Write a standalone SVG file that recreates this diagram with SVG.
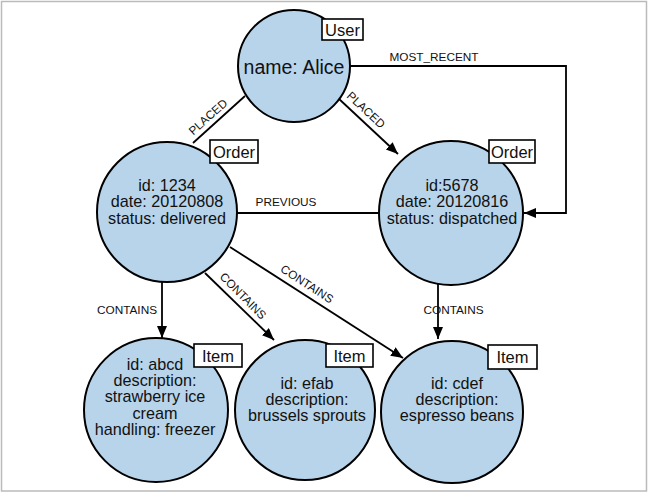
<svg xmlns="http://www.w3.org/2000/svg" width="650" height="496" viewBox="0 0 650 496">
<defs>
<marker id="arr" markerUnits="userSpaceOnUse" markerWidth="13" markerHeight="11" refX="12" refY="5" orient="auto">
<path d="M0,0 L12,5 L0,10 z" fill="#000"/>
</marker>
<style>
.n{fill:#b8d4ea;stroke:#000;stroke-width:2}
.lb{fill:#fff;stroke:#000;stroke-width:1.6}
.t{font-family:"Liberation Sans",Arial,sans-serif;font-size:16.2px;fill:#111;text-anchor:middle}
.lt{font-family:"Liberation Sans",Arial,sans-serif;font-size:16.5px;fill:#111;text-anchor:middle}
.c{fill:none;stroke:#000;stroke-width:1.8}
.el{font-family:"Liberation Sans",Arial,sans-serif;font-size:11.8px;fill:#111;text-anchor:middle}
</style>
</defs>
<rect x="1.5" y="1.5" width="645" height="489.5" fill="#fff" stroke="#bbb" stroke-width="1.5"/>
<g id="connectors">
<path class="c" d="M350,66 H566 V213 H524" marker-end="url(#arr)"/>
<text class="el" x="434" y="61">MOST_RECENT</text>
<line class="c" x1="245" y1="96" x2="193" y2="143"/>
<text class="el" transform="translate(208,117) rotate(-42)" y="4">PLACED</text>
<line class="c" x1="338" y1="98" x2="398" y2="154" marker-end="url(#arr)"/>
<text class="el" transform="translate(366,110) rotate(43)" y="4">PLACED</text>
<line class="c" x1="378" y1="213" x2="237" y2="213"/>
<text class="el" x="286" y="206">PREVIOUS</text>
<line class="c" x1="162" y1="282" x2="162" y2="338" marker-end="url(#arr)"/>
<text class="el" x="127" y="314">CONTAINS</text>
<line class="c" x1="205" y1="273" x2="274" y2="340" marker-end="url(#arr)"/>
<text class="el" transform="translate(243,296) rotate(45)" y="4">CONTAINS</text>
<line class="c" x1="230" y1="247" x2="403" y2="358" marker-end="url(#arr)"/>
<text class="el" transform="translate(307,284) rotate(33)" y="4">CONTAINS</text>
<line class="c" x1="438" y1="282" x2="438" y2="339" marker-end="url(#arr)"/>
<text class="el" x="453.5" y="314">CONTAINS</text>
</g>
<g id="user">
<circle class="n" cx="294" cy="66" r="56"/>
<text class="t" x="294" y="74" style="font-size:19.5px">name: Alice</text>
<rect class="lb" x="322" y="19" width="41" height="21"/>
<text class="lt" x="342.5" y="35.5">User</text>
</g>
<g id="order1234">
<circle class="n" cx="167" cy="212" r="70"/>
<text class="t" x="167" y="191">id: 1234</text>
<text class="t" x="167" y="207.3">date: 20120808</text>
<text class="t" x="167" y="223.6">status: delivered</text>
<rect class="lb" x="210" y="140" width="48" height="23"/>
<text class="lt" x="234" y="157.5">Order</text>
</g>
<g id="order5678">
<circle class="n" cx="451" cy="213" r="72"/>
<text class="t" x="452" y="191">id:5678</text>
<text class="t" x="452" y="207.3">date: 20120816</text>
<text class="t" x="452" y="223.6">status: dispatched</text>
<rect class="lb" x="489" y="140" width="46" height="23"/>
<text class="lt" x="512" y="157.5">Order</text>
</g>
<g id="itemabcd">
<circle class="n" cx="156" cy="410" r="72"/>
<text class="t" x="155" y="370">id: abcd</text>
<text class="t" x="155" y="386.2">description:</text>
<text class="t" x="155" y="402.4">strawberry ice</text>
<text class="t" x="155" y="418.6">cream</text>
<text class="t" x="155" y="434.8">handling: freezer</text>
<rect class="lb" x="194" y="344" width="48" height="23"/>
<text class="lt" x="218" y="361.5">Item</text>
</g>
<g id="itemefab">
<circle class="n" cx="305" cy="410" r="70"/>
<text class="t" x="307" y="389">id: efab</text>
<text class="t" x="307" y="405.2">description:</text>
<text class="t" x="307" y="421.4">brussels sprouts</text>
<rect class="lb" x="326" y="344" width="47" height="23"/>
<text class="lt" x="349.5" y="361.5">Item</text>
</g>
<g id="itemcdef">
<circle class="n" cx="452" cy="412" r="71"/>
<text class="t" x="457" y="389">id: cdef</text>
<text class="t" x="457" y="405.2">description:</text>
<text class="t" x="457" y="421.4">espresso beans</text>
<rect class="lb" x="488" y="345" width="49" height="24"/>
<text class="lt" x="512.5" y="363">Item</text>
</g>
</svg>
